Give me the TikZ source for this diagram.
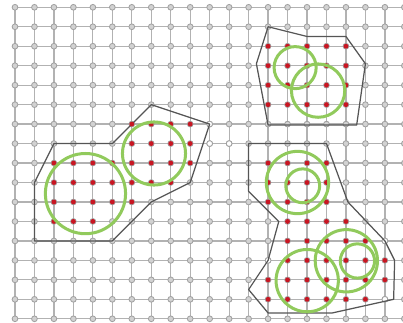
\documentclass[tikz,border=0pt]{standalone}
\usepackage{xcolor}
\usepackage{tikz}

\definecolor{gridgray}{RGB}{178,178,178}
\definecolor{nodegray}{RGB}{160,160,160}
\definecolor{hullgray}{RGB}{85,85,85}
\definecolor{dotred}{RGB}{200,22,34}
\definecolor{ringgreen}{RGB}{145,202,92}

\begin{document}
\begin{tikzpicture}[
    x=0.5cm, y=0.5cm,
    gridline/.style={draw=gridgray, line width=0.9pt},
    gridnode/.style={draw=nodegray, fill=gray!35, line width=0.6pt},
    freenode/.style={draw=nodegray, fill=white, line width=0.6pt},
    hull/.style={draw=hullgray, line width=0.9pt, line join=round},
    reddot/.style={fill=dotred},
    ring/.style={draw=ringgreen, line width=2.2pt},
]
    \useasboundingbox (-0.77,0.374) rectangle (19.93,-16.19);

    % Grid
    \foreach \c in {0,...,20}
        \draw[gridline] (\c,0) -- (\c,-16);
    \foreach \r in {0,...,16}
        \draw[gridline] (0,-\r) -- (20,-\r);
    \foreach \c in {0,...,20}
        \foreach \r in {0,...,16}
            \draw[gridnode] (\c,-\r) circle (2.1pt);
    \foreach \c/\r in {10/6, 10/7, 11/7, 13/13, 19/12, 19/15}
        \draw[freenode] (\c,-\r) circle (2.1pt);

    % Hulls
    \draw[hull] (7,-5) -- (10,-6) -- (9,-9) -- (7,-10) -- (5,-12) -- (1,-12)
        -- (1,-9) -- (2,-7) -- (5,-7) -- cycle;
    \draw[hull] (13,-1) -- (15,-1.5) -- (17,-1.5) -- (18,-2.9) -- (17.55,-6.05)
        -- (13,-6.05) -- (12.4,-2.9) -- cycle;
    \draw[hull] (12,-7) -- (16,-7) -- (17.1,-10) -- (19,-12) -- (19.5,-13)
        -- (19.45,-15) -- (16.3,-15.7) -- (13,-15.7) -- (12,-14.5) -- (13,-13)
        -- (13.55,-11) -- (12,-9.45) -- cycle;

    % Points (row / first col / last col)
    \foreach \r/\a/\b in {6/6/9, 7/6/9, 8/2/9, 9/2/8, 10/2/6, 11/2/4,
                          2/13/17, 3/13/17, 4/13/17, 5/13/17,
                          8/13/16, 9/13/16, 10/13/16, 11/14/17, 12/14/18,
                          13/14/19, 14/13/19, 15/13/18}
        \foreach \c in {\a,...,\b}
            \fill[reddot] (\c,-\r) circle (1.8pt);

    % Circles
    \draw[ring] (3.62,-9.57) circle (2.06);
    \draw[ring] (7.14,-7.51) circle (1.62);
    \draw[ring] (14.39,-3.1) circle (1.08);
    \draw[ring] (15.57,-4.28) circle (1.37);
    \draw[ring] (14.51,-9.0) circle (1.6);
    \draw[ring] (14.78,-9.17) circle (0.87);
    \draw[ring] (17.02,-13.02) circle (1.6);
    \draw[ring] (17.59,-13.03) circle (0.88);
    \draw[ring] (15.01,-14.04) circle (1.6);

\end{tikzpicture}
\end{document}
